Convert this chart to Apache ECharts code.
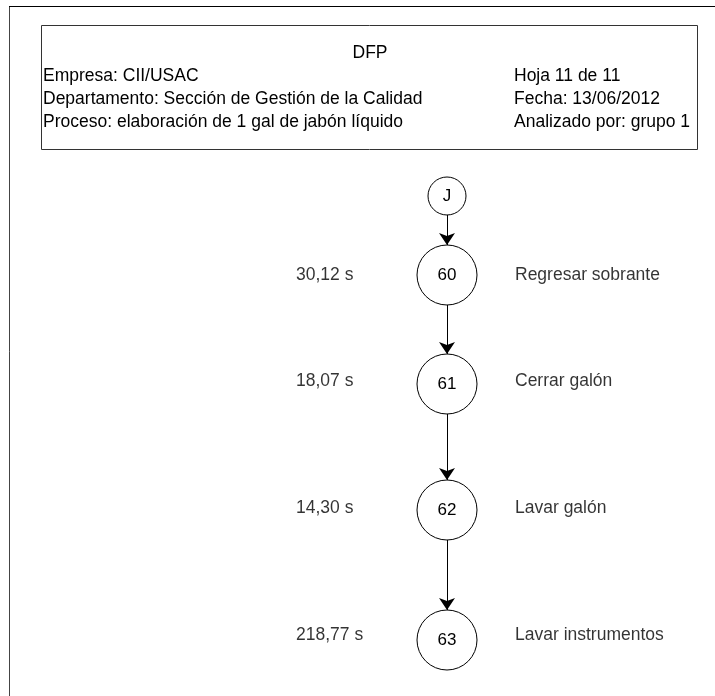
<!DOCTYPE html>
<html>
<head>
<meta charset="utf-8">
<script src="https://cdn.jsdelivr.net/npm/echarts@6/dist/echarts.min.js"></script>
<style>
  html, body { margin: 0; padding: 0; background: #fff; }
  #chart { width: 715px; height: 696px; }
</style>
</head>
<body>
<div id="chart"></div>
<script>
// nodos del diagrama de flujo
const nodeNames = ['J', '60', '61', '62', '63']
const nodePosY = [196, 275, 384, 510, 640]
const nodeSizes = [38, 60, 60, 60, 60]
const nodeX = 447

// tiempos y descripciones de cada operación
const stepTimes = ['30,12 s', '18,07 s', '14,30 s', '218,77 s']
const stepNames = ['Regresar sobrante', 'Cerrar galón', 'Lavar galón', 'Lavar instrumentos']
const stepLabelY = [275, 381, 508, 635]

// encabezado
const headerTitle = 'DFP'
const headerLeft = [
  'Empresa: CII/USAC',
  'Departamento: Sección de Gestión de la Calidad',
  'Proceso: elaboración de 1 gal de jabón líquido'
]
const headerRight = ['Hoja 11 de 11', 'Fecha: 13/06/2012', 'Analizado por: grupo 1']

const fontFamily = '"Liberation Sans", Arial, sans-serif'
const font = '17.5px ' + fontFamily
const chart = echarts.init(document.getElementById('chart'))

const nodes = nodeNames.map((name, i) => ({
  name: name,
  value: [nodeX, nodePosY[i]],
  symbolSize: nodeSizes[i]
}))
const links = nodeNames.slice(1).map((name, i) => ({
  source: nodeNames[i],
  target: name
}))

// líneas del encabezado
const headerLineY = [76, 99, 122]
const headerText = []
headerLeft.forEach((t, i) => {
  headerText.push({
    type: 'text', x: 43, y: headerLineY[i],
    style: { text: t, font: font, fill: '#000', verticalAlign: 'middle' }
  })
})
headerRight.forEach((t, i) => {
  headerText.push({
    type: 'text', x: 514, y: headerLineY[i],
    style: { text: t, font: font, fill: '#000', verticalAlign: 'middle' }
  })
})

const option = {
  animation: false,
  backgroundColor: '#fff',
  grid: { left: 0, right: 0, top: 0, bottom: 0 },
  xAxis: { type: 'value', min: 0, max: 715, show: false },
  yAxis: { type: 'value', min: 0, max: 696, inverse: true, show: false },
  graphic: [
    // marco exterior
    { type: 'line', shape: { x1: 9.5, y1: 6.5, x2: 9.5, y2: 700 }, style: { stroke: '#444', lineWidth: 1 } },
    { type: 'line', shape: { x1: 9, y1: 6.5, x2: 715, y2: 6.5 }, style: { stroke: '#000', lineWidth: 1 } },
    // caja del encabezado
    { type: 'rect', shape: { x: 41.5, y: 25.5, width: 656, height: 124 }, style: { fill: 'none', stroke: '#333', lineWidth: 1 } },
    {
      type: 'text', x: 370, y: 53,
      style: { text: headerTitle, font: font, fill: '#000', align: 'center', verticalAlign: 'middle' }
    },
    ...headerText
  ],
  series: [
    {
      type: 'graph',
      coordinateSystem: 'cartesian2d',
      symbol: 'circle',
      data: nodes,
      links: links,
      edgeSymbol: ['none', 'arrow'],
      edgeSymbolSize: [0, 12],
      itemStyle: { color: '#fff', borderColor: '#000', borderWidth: 1 },
      lineStyle: { color: '#000', width: 1, opacity: 1 },
      label: {
        show: true,
        position: 'inside',
        color: '#000',
        fontSize: 17,
        fontFamily: fontFamily
      },
      emphasis: { disabled: true }
    },
    {
      type: 'scatter',
      symbolSize: 0,
      data: stepTimes.map((t, i) => ({ value: [296, stepLabelY[i]], name: t })),
      label: {
        show: true,
        position: 'right',
        distance: 0,
        formatter: p => p.name,
        color: '#000',
        fontSize: 17.5,
        fontFamily: fontFamily
      },
      silent: true
    },
    {
      type: 'scatter',
      symbolSize: 0,
      data: stepNames.map((t, i) => ({ value: [515, stepLabelY[i]], name: t })),
      label: {
        show: true,
        position: 'right',
        distance: 0,
        formatter: p => p.name,
        color: '#000',
        fontSize: 17.5,
        fontFamily: fontFamily
      },
      silent: true
    }
  ]
}

chart.setOption(option)
</script>
</body>
</html>
